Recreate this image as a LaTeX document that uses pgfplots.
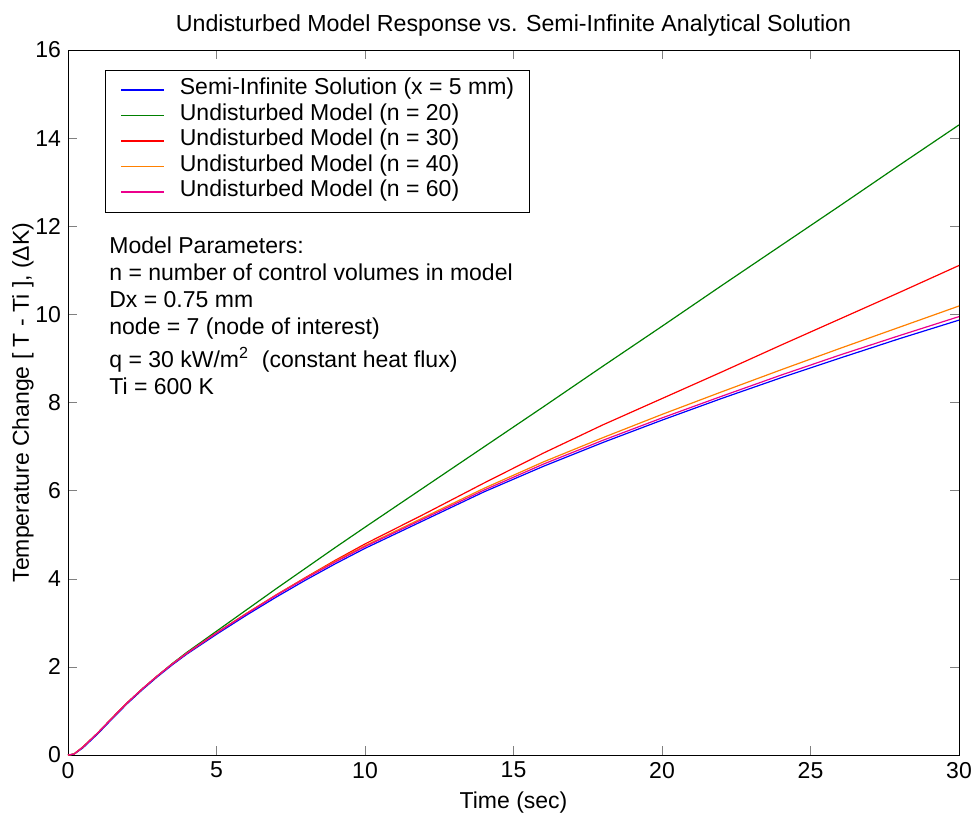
\documentclass[border=0pt]{standalone}
\usepackage{pgfplots}
\pgfplotsset{compat=1.18}
\usepackage{fontspec}
\setmainfont{Liberation Sans}

% time [s] vs temperature rise [K]
\pgfplotstableread{
t     semi   n20    n30    n40    n60
0     0      0      0      0      0
0.2   0.02   0.02   0.02   0.02   0.02
0.5   0.16   0.18   0.18   0.18   0.18
1     0.48   0.50   0.50   0.50   0.50
1.5   0.83   0.85   0.85   0.85   0.85
2     1.17   1.19   1.19   1.19   1.19
2.5   1.48   1.50   1.50   1.50   1.50
3     1.77   1.79   1.79   1.79   1.79
3.5   2.04   2.07   2.06   2.06   2.06
4     2.29   2.33   2.31   2.31   2.31
5     2.74   2.81   2.77   2.77   2.77
6     3.17   3.29   3.21   3.21   3.20
7     3.58   3.77   3.63   3.63   3.62
8     3.97   4.24   4.03   4.02   4.01
9     4.34   4.71   4.42   4.40   4.38
10    4.69   5.17   4.79   4.75   4.73
12    5.33   6.08   5.47   5.40   5.37
14    5.97   6.99   6.17   6.05   6.01
16    6.55   7.90   6.85   6.65   6.60
18    7.09   8.82   7.49   7.20   7.14
20    7.60   9.73   8.09   7.73   7.65
22    8.09   10.65  8.69   8.24   8.14
24    8.56   11.56  9.30   8.74   8.62
26    9.01   12.47  9.90   9.23   9.08
28    9.45   13.39  10.50  9.71   9.52
30    9.87   14.30  11.11  10.19  9.95
}\datatable

\definecolor{mgreen}{RGB}{0,128,0}
\definecolor{morange}{RGB}{255,128,0}

\begin{document}
\begin{tikzpicture}
\begin{axis}[
    width=445.5pt, height=352.5pt,
    scale only axis,
    xmin=0, xmax=30,
    ymin=0, ymax=16,
    xtick={0,5,...,30},
    ytick={0,2,...,16},
    /pgf/number format/assume math mode=true,
    tick label style={font=\fontsize{11.5}{13}\selectfont},
    label style={font=\fontsize{11.5}{13}\selectfont},
    title style={font=\fontsize{11.6}{13}\selectfont, yshift=-2.5pt},
    title={Undisturbed Model Response vs. Semi-Infinite Analytical Solution},
    xlabel={Time (sec)},
    ylabel={Temperature Change [ T - Ti ], (ΔK)},
    ylabel shift=-6pt,
    legend style={
        at={(0.0415,0.972)}, anchor=north west,
        font=\fontsize{11.5}{12.5}\selectfont,
        draw=black, line width=0.5pt,
        inner xsep=7.5pt, inner ysep=3.6pt,
        row sep=0pt,
        nodes={inner xsep=0pt, inner ysep=0pt, text height=8.75pt, text depth=4pt},
    },
    legend cell align=left,
    legend image code/.code={
        \draw[#1, line width=0.8pt] (0pt,0pt) -- (21.5pt,0pt);
        \path (29pt,0pt);
    },
    every axis plot/.append style={line width=0.6pt},
]
\addplot[blue] table[x=t, y=semi] {\datatable};
\addplot[mgreen] table[x=t, y=n20] {\datatable};
\addplot[red] table[x=t, y=n30] {\datatable};
\addplot[morange] table[x=t, y=n40] {\datatable};
\addplot[magenta] table[x=t, y=n60] {\datatable};
\legend{Semi-Infinite Solution (x = 5 mm),
        Undisturbed Model (n = 20),
        Undisturbed Model (n = 30),
        Undisturbed Model (n = 40),
        Undisturbed Model (n = 60)}

\node[anchor=north west, align=left, inner sep=0pt,
      font=\fontsize{11.5}{13.4}\selectfont]
    at (rel axis cs:0.046,0.735)
    {Model Parameters:\\
     n = number of control volumes in model\\
     Dx = 0.75 mm\\
     node = 7 (node of interest)\\[3.3pt]
     q = 30 kW/m\textsuperscript{2}~ (constant heat flux)\\
     Ti = 600 K};
\end{axis}
\pgfresetboundingbox
\path ([shift={(-34pt,-30.5pt)}]current axis.south west)
    rectangle ([shift={(8pt,25pt)}]current axis.north east);
\end{tikzpicture}
\end{document}
